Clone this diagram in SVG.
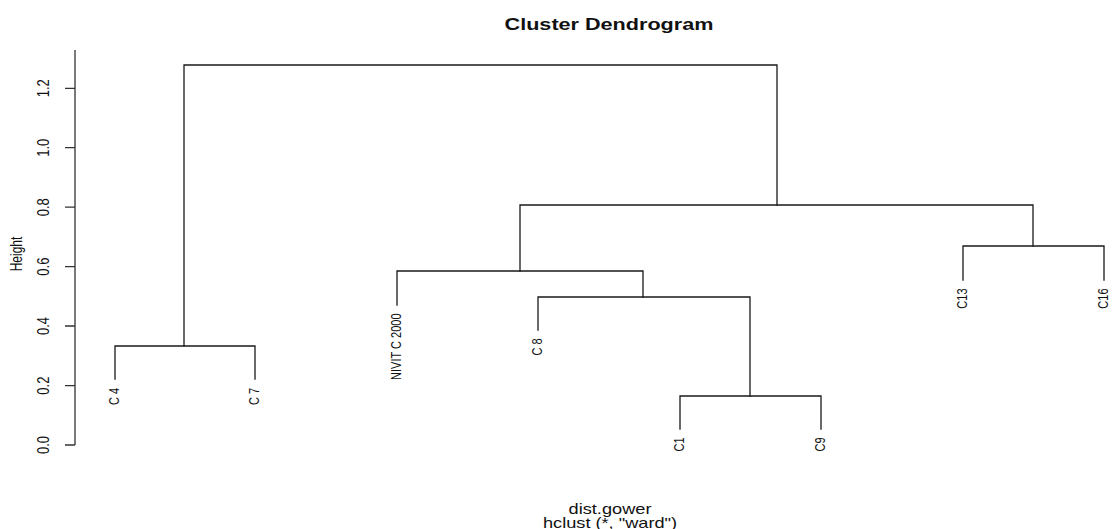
<svg xmlns="http://www.w3.org/2000/svg" width="1113" height="529" viewBox="0 0 1113 529">
<style>
.ln{fill:none;stroke:#1a1a1a;stroke-width:1.3;stroke-linecap:square}
.ax{fill:none;stroke:#333;stroke-width:1.3}
.t{font-family:"Liberation Sans",Arial,sans-serif;fill:#111}
.leaf{font-size:11px;text-anchor:end}
.tick{font-size:13px;text-anchor:middle}
</style>
<rect width="1113" height="529" fill="#fff"/>
<g id="title">
<text class="t" transform="translate(609,30) scale(1.31,1)" font-size="16.5" font-weight="bold" text-anchor="middle">Cluster Dendrogram</text>
</g>
<g id="axis">
<path class="ax" d="M75,50V445M65,88.3H75M65,147.7H75M65,207.2H75M65,266.6H75M65,326H75M65,385.6H75M65,445H75"/>
<text class="t tick" transform="translate(48.5,88.3) scale(1.2,1) rotate(-90)">1.2</text>
<text class="t tick" transform="translate(48.5,147.7) scale(1.2,1) rotate(-90)">1.0</text>
<text class="t tick" transform="translate(48.5,207.2) scale(1.2,1) rotate(-90)">0.8</text>
<text class="t tick" transform="translate(48.5,266.6) scale(1.2,1) rotate(-90)">0.6</text>
<text class="t tick" transform="translate(48.5,326) scale(1.2,1) rotate(-90)">0.4</text>
<text class="t tick" transform="translate(48.5,385.6) scale(1.2,1) rotate(-90)">0.2</text>
<text class="t tick" transform="translate(48.5,445) scale(1.2,1) rotate(-90)">0.0</text>
<text class="t" transform="translate(22,254) scale(1.35,1) rotate(-90)" font-size="12" text-anchor="middle">Height</text>
</g>
<g id="connectors">
<path class="ln" d="M184,346V65H777V205"/>
<path class="ln" d="M115,379V346H255V379"/>
<path class="ln" d="M520,271V205H1033V246"/>
<path class="ln" d="M397,305V271H643V297"/>
<path class="ln" d="M538,330V297H750V396"/>
<path class="ln" d="M680,429V396H821V429"/>
<path class="ln" d="M963,280V246H1104V280"/>
</g>
<g id="leaf-c4"><text class="t leaf" transform="translate(118.5,388) scale(1.32,1) rotate(-90)">C 4</text></g>
<g id="leaf-c7"><text class="t leaf" transform="translate(258.5,388) scale(1.32,1) rotate(-90)">C 7</text></g>
<g id="leaf-nivit"><text class="t leaf" transform="translate(400.5,313.5) scale(1.32,1) rotate(-90)">NIVIT C 2000</text></g>
<g id="leaf-c8"><text class="t leaf" transform="translate(541.5,338.5) scale(1.32,1) rotate(-90)">C 8</text></g>
<g id="leaf-c1"><text class="t leaf" transform="translate(683.5,437.5) scale(1.32,1) rotate(-90)">C1</text></g>
<g id="leaf-c9"><text class="t leaf" transform="translate(824.5,437.5) scale(1.32,1) rotate(-90)">C9</text></g>
<g id="leaf-c13"><text class="t leaf" transform="translate(966.5,288.5) scale(1.32,1) rotate(-90)">C13</text></g>
<g id="leaf-c16"><text class="t leaf" transform="translate(1107.5,288.5) scale(1.32,1) rotate(-90)">C16</text></g>
<g id="xlab">
<text class="t" transform="translate(610,514) scale(1.3,1)" font-size="14" text-anchor="middle">dist.gower</text>
<text class="t" transform="translate(610,528) scale(1.3,1)" font-size="14" text-anchor="middle">hclust (*, "ward")</text>
</g>
</svg>
